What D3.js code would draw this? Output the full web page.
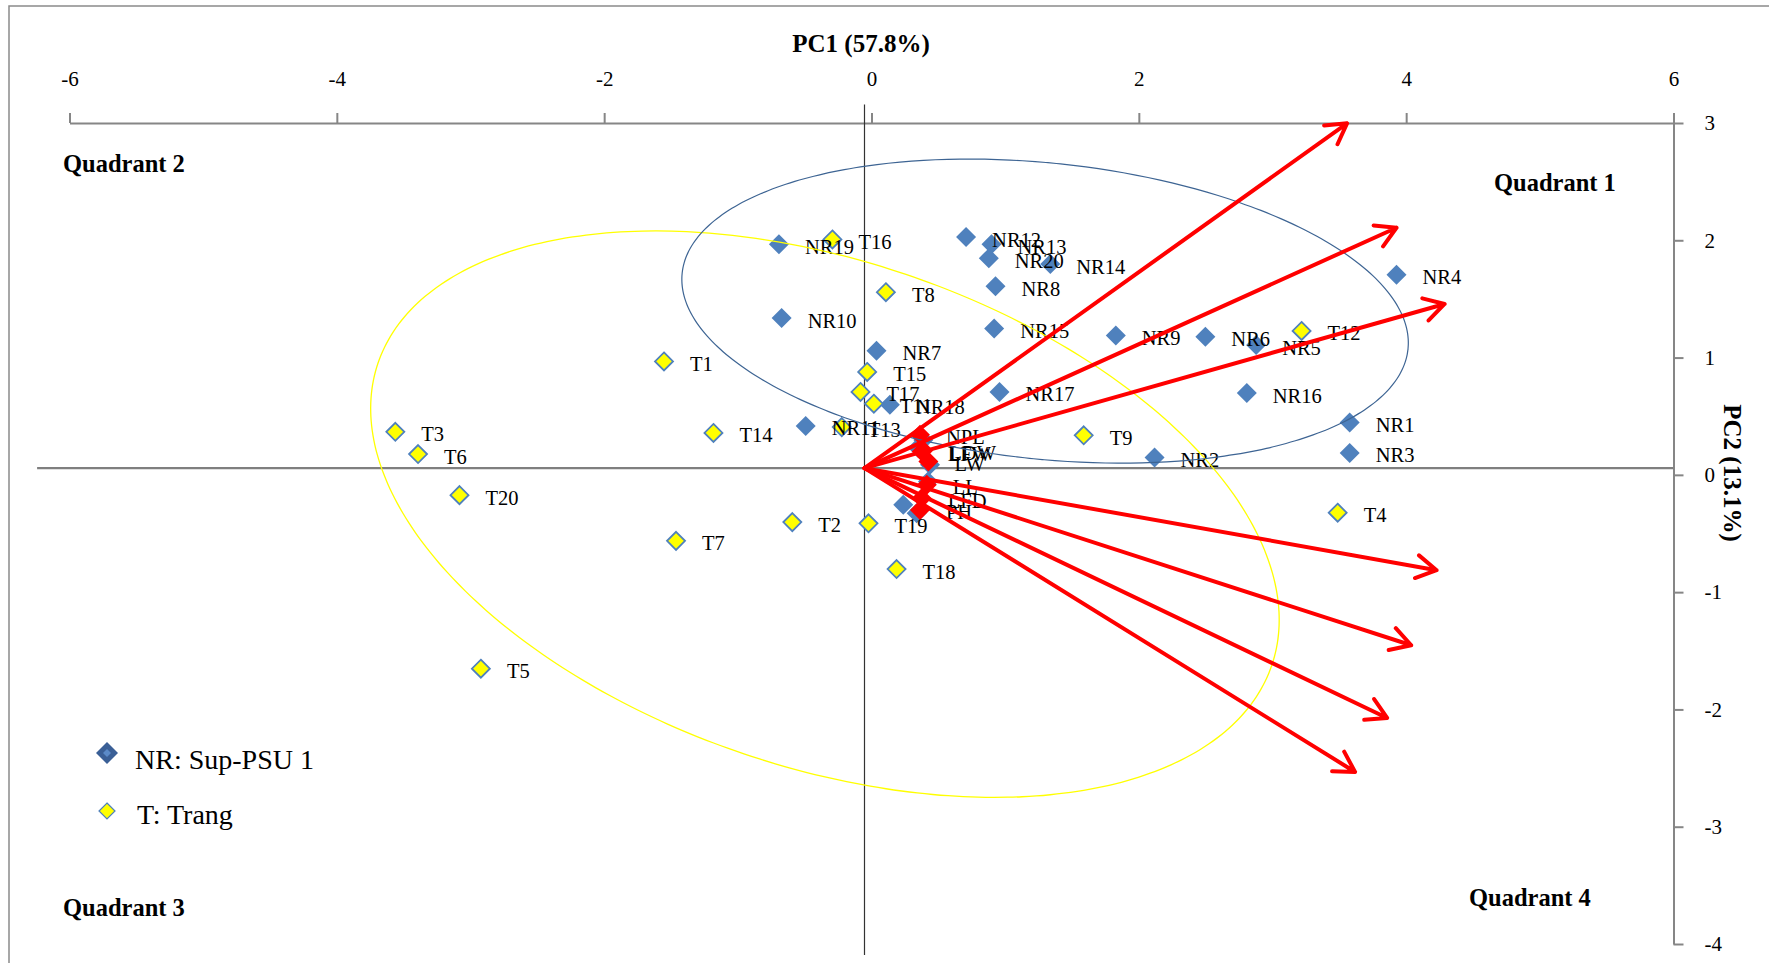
<!DOCTYPE html>
<html>
<head>
<meta charset="utf-8">
<script src="https://cdn.jsdelivr.net/npm/d3@7"></script>
<style>
  body { margin: 0; background: #fff; }
  text { font-family: "Liberation Serif", "Times New Roman", serif; }
</style>
</head>
<body>
<div id="chart"></div>
<script>
var width = 1769;
var height = 963;

// ---- data ----
var nrNames = ['NR1', 'NR2', 'NR3', 'NR4', 'NR5', 'NR6', 'NR7', 'NR8', 'NR9', 'NR10',
    'NR11', 'NR12', 'NR13', 'NR14', 'NR15', 'NR16', 'NR17', 'NR18', 'NR19', 'NR20'];
var nrPC1 = [3.63, 2.17, 3.63, 3.98, 2.93, 2.55, 0.09, 0.98, 1.88, -0.62,
    -0.44, 0.76, 0.95, 1.39, 0.97, 2.86, 1.01, 0.19, -0.64, 0.93];
var nrPC2 = [0.39, 0.09, 0.13, 1.65, 1.05, 1.12, 1.00, 1.55, 1.13, 1.28,
    0.36, 1.97, 1.91, 1.74, 1.19, 0.64, 0.65, 0.54, 1.91, 1.79];

var tNames = ['T1', 'T2', 'T3', 'T4', 'T5', 'T6', 'T7', 'T8', 'T9', 'T11',
    'T12', 'T13', 'T14', 'T15', 'T16', 'T17', 'T18', 'T19', 'T20'];
var tPC1 = [-1.50, -0.54, -3.51, 3.54, -2.87, -3.34, -1.41, 0.16, 1.64, 0.07,
    3.27, -0.17, -1.13, 0.02, -0.24, -0.03, 0.24, 0.03, -3.03];
var tPC2 = [0.91, -0.46, 0.31, -0.38, -1.71, 0.12, -0.62, 1.50, 0.28, 0.55,
    1.17, 0.35, 0.30, 0.82, 1.95, 0.65, -0.86, -0.47, -0.23];

// trait loadings (red markers) and the blue markers under them
var varNames = ['NPL', 'LFW', 'LDW', 'LW', 'LL', 'LFD', 'PH'];
var varPC1 = [0.415, 0.428, 0.44, 0.478, 0.466, 0.428, 0.415];
var varPC2 = [0.284, 0.142, 0.15, 0.056, -0.142, -0.256, -0.356];
var loadBluePC1 = [0.44, 0.40, 0.49, 0.475, 0.29, 0.39];
var loadBluePC2 = [0.241, 0.173, 0.028, -0.114, -0.313, -0.384];

// arrow tips (vectors)
var arrowPC1 = [3.61, 3.98, 4.34, 4.28, 4.09, 3.91, 3.67];
var arrowPC2 = [2.94, 2.05, 1.40, -0.87, -1.51, -2.13, -2.59];

// group ellipses: centre and two conjugate semi-diameters, in PC units
var ellNR = { cx: 1.351, cy: 1.339, ux: 2.715, uy: -0.325, vx: -0.116, vy: -1.255 };
var ellT = { cx: -0.296, cy: -0.392, ux: 3.344, uy: -1.286, vx: -0.606, vy: -2.044 };

var xTicks = [-6, -4, -2, 0, 2, 4, 6];
var yTicks = [3, 2, 1, 0, -1, -2, -3, -4];

var svg = d3.select('#chart').append('svg')
    .attr('width', width)
    .attr('height', height);

svg.append('rect')
    .attr('x', 0).attr('y', 0).attr('width', width).attr('height', height)
    .attr('fill', '#fff');

// outer frame
svg.append('rect')
    .attr('x', 9).attr('y', 6)
    .attr('width', width + 20).attr('height', height + 20)
    .attr('fill', 'none')
    .attr('stroke', '#8a8a8a')
    .attr('stroke-width', 1.5);

// axis scales (top / right)
var xAxisScale = d3.scaleLinear().domain([-6, 6]).range([69.5, 1673.5]);
var yAxisScale = d3.scaleLinear().domain([-4, 3]).range([944, 123]);
// plotting scales, the cross lines sit slightly off the axis zero
var x = d3.scaleLinear().domain([-6, 6]).range([62.5, 1666.5]);
var y = d3.scaleLinear().domain([-4, 3]).range([937.3, 116.3]);

var topAxis = svg.append('g')
    .attr('transform', 'translate(0,' + yAxisScale(3) + ')')
    .call(d3.axisTop(xAxisScale).tickValues(xTicks).tickSizeInner(10).tickSizeOuter(0).tickPadding(27).tickFormat(d => String(d)));
var rightAxis = svg.append('g')
    .attr('transform', 'translate(' + xAxisScale(6) + ',0)')
    .call(d3.axisRight(yAxisScale).tickValues(yTicks).tickSizeInner(10).tickSizeOuter(0).tickPadding(21).tickFormat(d => String(d)));

[topAxis, rightAxis].forEach(function (g) {
    g.select('.domain').attr('stroke', '#868686').attr('stroke-width', 2);
    g.selectAll('.tick line').attr('stroke', '#868686').attr('stroke-width', 2);
    g.selectAll('.tick text')
        .attr('fill', '#000')
        .style('font-size', '21px')
        .style('font-family', '"Liberation Serif", "Times New Roman", serif');
});

// cross lines through (0,0)
svg.append('line')
    .attr('x1', x(-6.19)).attr('x2', x(6.05))
    .attr('y1', y(0)).attr('y2', y(0))
    .attr('stroke', '#7f7f7f')
    .attr('stroke-width', 2.2);
svg.append('line')
    .attr('x1', x(0)).attr('x2', x(0))
    .attr('y1', y(3.1)).attr('y2', y(-4.15))
    .attr('stroke', '#333')
    .attr('stroke-width', 1.2);

// titles
svg.append('text')
    .attr('x', 861).attr('y', 52)
    .attr('text-anchor', 'middle')
    .style('font-size', '25px')
    .style('font-weight', 'bold')
    .text('PC1 (57.8%)');
svg.append('text')
    .attr('transform', 'translate(1724,473) rotate(90)')
    .attr('text-anchor', 'middle')
    .style('font-size', '25px')
    .style('font-weight', 'bold')
    .text('PC2 (13.1%)');

var quadrants = [
    { label: 'Quadrant 1', x: 1494, y: 191 },
    { label: 'Quadrant 2', x: 63, y: 172 },
    { label: 'Quadrant 3', x: 63, y: 916 },
    { label: 'Quadrant 4', x: 1469, y: 906 }
];
svg.selectAll('.quad')
    .data(quadrants)
    .enter()
    .append('text')
    .attr('class', 'quad')
    .attr('x', d => d.x)
    .attr('y', d => d.y)
    .style('font-size', '24.5px')
    .style('font-weight', 'bold')
    .text(d => d.label);

function diamond(r) {
    return 'M0,' + (-r) + 'L' + r + ',0L0,' + r + 'L' + (-r) + ',0Z';
}

var nrData = nrNames.map((n, i) => ({ name: n, pc1: nrPC1[i], pc2: nrPC2[i] }));
var tData = tNames.map((n, i) => ({ name: n, pc1: tPC1[i], pc2: tPC2[i] }));
var varData = varNames.map((n, i) => ({ name: n, pc1: varPC1[i], pc2: varPC2[i] }));
var blueLoad = loadBluePC1.map((v, i) => ({ pc1: v, pc2: loadBluePC2[i] }));

var pts = svg.append('g');

pts.selectAll('.nr')
    .data(nrData)
    .enter()
    .append('path')
    .attr('class', 'nr')
    .attr('d', diamond(10))
    .attr('transform', d => 'translate(' + x(d.pc1) + ',' + y(d.pc2) + ')')
    .attr('fill', '#4f81bd');

pts.selectAll('.bl')
    .data(blueLoad)
    .enter()
    .append('path')
    .attr('class', 'bl')
    .attr('d', diamond(10))
    .attr('transform', d => 'translate(' + x(d.pc1) + ',' + y(d.pc2) + ')')
    .attr('fill', '#4f81bd');

pts.selectAll('.tt')
    .data(tData)
    .enter()
    .append('path')
    .attr('class', 'tt')
    .attr('d', diamond(9))
    .attr('transform', d => 'translate(' + x(d.pc1) + ',' + y(d.pc2) + ')')
    .attr('fill', '#ffff00')
    .attr('stroke', '#4f81bd')
    .attr('stroke-width', 1.8);

pts.selectAll('.vr')
    .data(varData)
    .enter()
    .append('path')
    .attr('class', 'vr')
    .attr('d', diamond(10))
    .attr('transform', d => 'translate(' + x(d.pc1) + ',' + y(d.pc2) + ')')
    .attr('fill', '#ff0000');

var allLabels = nrData.concat(tData).concat(varData);
pts.selectAll('.lab')
    .data(allLabels)
    .enter()
    .append('text')
    .attr('class', 'lab')
    .attr('x', d => x(d.pc1) + 26)
    .attr('y', d => y(d.pc2) + 9.5)
    .style('font-size', '20.5px')
    .attr('fill', '#000')
    .text(d => d.name);

// ellipses
function ellipsePts(e) {
    return d3.range(0, 361, 2).map(function (a) {
        var t = a * Math.PI / 180;
        return [e.cx + e.ux * Math.cos(t) + e.vx * Math.sin(t),
                e.cy + e.uy * Math.cos(t) + e.vy * Math.sin(t)];
    });
}
var ellLine = d3.line().x(d => x(d[0])).y(d => y(d[1])).curve(d3.curveCardinalClosed);
svg.append('path')
    .attr('d', ellLine(ellipsePts(ellT)))
    .attr('fill', 'none')
    .attr('stroke', '#ffff00')
    .attr('stroke-width', 1.3);
svg.append('path')
    .attr('d', ellLine(ellipsePts(ellNR)))
    .attr('fill', 'none')
    .attr('stroke', '#3d6493')
    .attr('stroke-width', 1.2);

// arrows
var arrows = arrowPC1.map((v, i) => ({ pc1: v, pc2: arrowPC2[i] }));
var ag = svg.append('g')
    .attr('stroke', '#ff0000')
    .attr('stroke-width', 4)
    .attr('fill', 'none')
    .attr('stroke-linecap', 'round')
    .attr('stroke-linejoin', 'round');
ag.selectAll('.arr')
    .data(arrows)
    .enter()
    .append('path')
    .attr('class', 'arr')
    .attr('d', function (d) {
        var x0 = x(0), y0 = y(0), x1 = x(d.pc1), y1 = y(d.pc2);
        var ang = Math.atan2(y1 - y0, x1 - x0);
        var L = 23, sp = Math.PI / 6;
        var ax = x1 - L * Math.cos(ang - sp), ay = y1 - L * Math.sin(ang - sp);
        var bx = x1 - L * Math.cos(ang + sp), by = y1 - L * Math.sin(ang + sp);
        return 'M' + x0 + ',' + y0 + 'L' + x1 + ',' + y1 +
            'M' + ax + ',' + ay + 'L' + x1 + ',' + y1 + 'L' + bx + ',' + by;
    });

// legend
var legend = svg.append('g');
legend.append('path')
    .attr('d', diamond(11))
    .attr('transform', 'translate(107,753)')
    .attr('fill', '#3a5f96');
legend.append('path')
    .attr('d', diamond(4))
    .attr('transform', 'translate(107,753)')
    .attr('fill', '#5b8ac7');
legend.append('path')
    .attr('d', diamond(8))
    .attr('transform', 'translate(107,811)')
    .attr('fill', '#ffff00')
    .attr('stroke', '#4f81bd')
    .attr('stroke-width', 1.2);
legend.append('text')
    .attr('x', 135).attr('y', 769)
    .style('font-size', '28px')
    .text('NR: Sup-PSU 1');
legend.append('text')
    .attr('x', 137).attr('y', 824)
    .style('font-size', '28px')
    .text('T: Trang');
</script>
</body>
</html>
